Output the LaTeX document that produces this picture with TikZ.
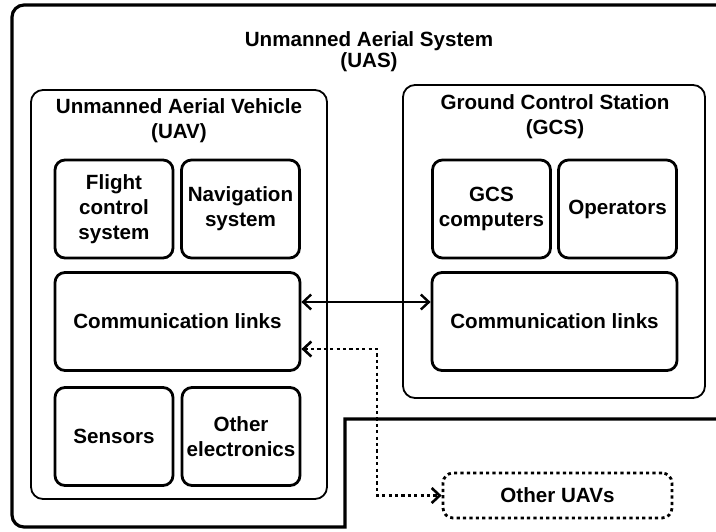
\documentclass[tikz,border=0pt]{standalone}
\usepackage{fontspec}
\setmainfont{Liberation Sans}
\usetikzlibrary{arrows.meta, positioning}

\begin{document}
\begin{tikzpicture}[x=0.5pt, y=-0.5pt,
    every node/.style={font=\fontsize{10.3pt}{12.4pt}\selectfont\bfseries, align=center, inner sep=0pt},
    part/.style={rectangle, rounded corners=5pt, draw=black, line width=1.4pt, minimum width=59pt, minimum height=49pt},
    widepart/.style={part, minimum width=122.5pt},
    group/.style={rectangle, rounded corners=6pt, draw=black, line width=0.9pt},
    link/.style={{Straight Barb[length=4pt, width=7.5pt]}-{Straight Barb[length=4pt, width=7.5pt]}, line width=1.2pt},
    dotlink/.style={link, line width=1.3pt, dash pattern=on 1.6pt off 1.6pt}
]
    \useasboundingbox (0,0) rectangle (716,531);

    % system boundary (runs off the right edge)
    \draw[line width=1.6pt] (740,419) -- (345,419) -- (345,527) [rounded corners=6pt] -- (12,527) -- (12,5) -- (740,5);
    \node[font=\fontsize{10.3pt}{9.6pt}\selectfont\bfseries] (uas) at (369,52) {Unmanned Aerial System\\(UAS)};

    \node[group, minimum width=148pt, minimum height=204.5pt] (uav) at (179,294.5) {};
    \node (uavtitle) at (179,120.5) {Unmanned Aerial Vehicle\\(UAV)};
    \node[part] (fcs) at (114,209) {Flight\\control\\system};
    \node[part] (nav) at (240.5,209) {Navigation\\system};
    \node[widepart] (uavcom) at (177.5,321.5) {Communication links};
    \node[part] (sens) at (114,436.5) {Sensors};
    \node[part] (elec) at (241,436.5) {Other\\electronics};

    \node[group, minimum width=151pt, minimum height=156.5pt] (gcs) at (554,241.5) {};
    \node (gcstitle) at (555,117) {Ground Control Station\\(GCS)};
    \node[part] (comp) at (491.5,209) {GCS\\computers};
    \node[part] (oper) at (617.5,209) {Operators};
    \node[widepart] (gcscom) at (554.5,321.5) {Communication links};

    \node[part, minimum width=114.5pt, minimum height=22.5pt, dash pattern=on 1.6pt off 1.6pt] (others) at (557.5,495.5) {Other UAVs};

    \draw[link] ([yshift=9.75pt]uavcom.east) -- ([yshift=9.75pt]gcscom.west);
    \coordinate (bend) at (377,349);
    \draw[dotlink] ([yshift=-13.75pt]uavcom.east) -- (bend) |- (others.west);
\end{tikzpicture}
\end{document}
